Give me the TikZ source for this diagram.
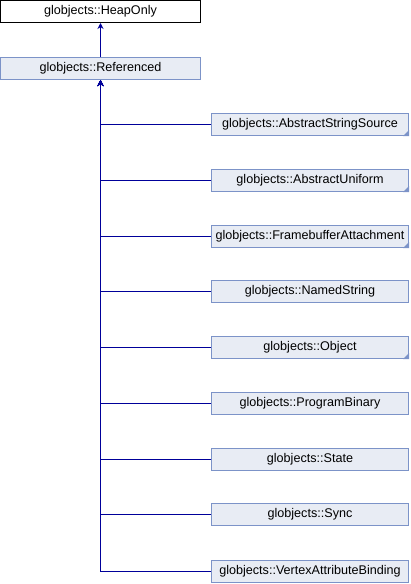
\documentclass[tikz,border=0pt]{standalone}
\usepackage{fontspec}
\setmainfont{Liberation Sans}
\usetikzlibrary{arrows.meta}

\definecolor{boxfill}{HTML}{E8ECF4}
\definecolor{boxline}{HTML}{7C93C8}
\definecolor{edgeblue}{HTML}{00009A}

\tikzset{
    cls/.style={draw=boxline, fill=boxfill, line width=1pt, rectangle, inner sep=0pt,
        minimum width=197pt, minimum height=22pt, font=\fontsize{12.6}{14}\selectfont},
    top/.style={cls, draw=black, fill=white},
    edge/.style={draw=edgeblue, line width=1pt, -{Stealth[length=6pt, width=6pt]}},
    more/.style={fill=boxline, draw=none}
}

\begin{document}
\begin{tikzpicture}[x=1pt, y=-1pt]
    \useasboundingbox (0,0) rectangle (410,584);

    % Basisklassen
    \node[top, minimum width=200pt] (heaponly) at (100.5,11.5) {globjects::HeapOnly};
    \node[cls, minimum width=200pt] (referenced) at (100.5,68.5) {globjects::Referenced};

    % abgeleitete Klassen
    \node[cls] (stringsource) at (310,124.5) {globjects::AbstractStringSource};
    \node[cls] (uniform) at (310,180.5) {globjects::AbstractUniform};
    \node[cls] (fbattach) at (310,236.5) {globjects::FramebufferAttachment};
    \node[cls] (namedstring) at (310,291.5) {globjects::NamedString};
    \node[cls] (object) at (310,347.5) {globjects::Object};
    \node[cls] (progbinary) at (310,403.5) {globjects::ProgramBinary};
    \node[cls] (state) at (310,459.5) {globjects::State};
    \node[cls] (sync) at (310,514.5) {globjects::Sync};
    \node[cls] (vabinding) at (310,571.5) {globjects::VertexAttributeBinding};

    % Ecken fuer Klassen mit weiteren Unterklassen
    \foreach \n in {stringsource, uniform, fbattach, object}
        \fill[more] (\n.south east) -- ++(-6,0) -- ++(6,-6) -- cycle;

    % Vererbung
    \draw[edge] (referenced) -- (heaponly);
    \foreach \n in {stringsource, uniform, fbattach, namedstring, object,
                    progbinary, state, sync, vabinding}
        \draw[edge] (\n.west) -| (referenced.south);
\end{tikzpicture}
\end{document}
